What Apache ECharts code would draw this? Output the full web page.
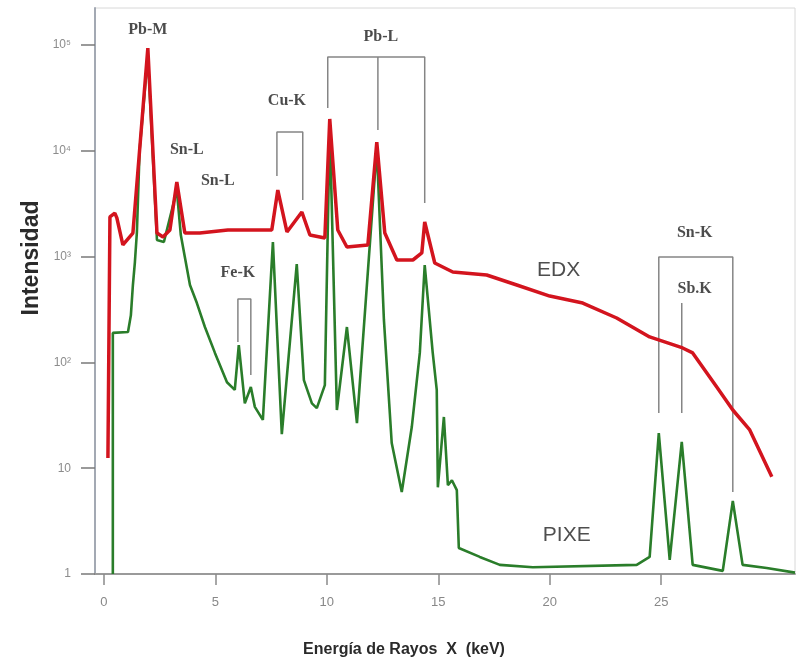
<!DOCTYPE html>
<html>
<head>
<meta charset="utf-8">
<script src="https://cdn.jsdelivr.net/npm/echarts@6/dist/echarts.min.js"></script>
<style>
html,body{margin:0;padding:0;background:#fff;}
#chart{width:808px;height:665px;}
</style>
</head>
<body>
<div id="chart"></div>
<script>
// ---- data ----
var xTickValues = [0, 5, 10, 15, 20, 25];
var yTickValues = [1, 10, 100, 1000, 10000, 100000];
var yTickLabels = ['1', '10', '10²', '10³', '10⁴', '10⁵'];

var edxEnergy = [0.18,0.27,0.49,0.58,0.85,1.30,1.97,2.38,2.65,2.96,3.27,3.63,4.30,5.56,7.53,7.80,8.21,8.88,9.24,9.91,10.13,10.49,10.90,11.84,12.24,12.60,13.14,13.86,14.26,14.39,14.84,15.65,17.17,18.52,20.0,21.48,23.0,24.48,25.96,26.41,27.49,28.21,28.97,29.96];
var edxIntensity = [12.5,2370,2580,2320,1290,1670,93700,1670,1530,1785,5070,1670,1670,1785,1785,4260,1710,2640,1600,1500,20000,1785,1233,1288,12100,1670,929,929,1082,2124,870,715,670,539,424,364,263,174,137,123,58.5,35.5,23,8.3];

var pixeEnergy = [0.40,0.40,1.08,1.21,1.30,1.39,1.48,1.60,1.97,2.38,2.69,3.27,3.45,3.63,3.86,4.17,4.53,4.98,5.52,5.87,6.05,6.32,6.59,6.77,7.13,7.58,7.98,8.65,8.97,9.33,9.55,9.91,10.13,10.45,10.90,11.35,12.24,12.56,12.91,13.36,13.81,14.17,14.39,14.75,14.93,14.98,15.25,15.43,15.61,15.83,15.92,16.86,17.76,19.24,23.9,24.48,24.89,25.38,25.92,26.41,27.76,28.21,28.65,29.73,31.0];
var pixeIntensity = [1,190,194,280,539,889,1710,10100,80000,1435,1374,4260,1600,991,539,364,216,123,65,55,146,41,58.5,38,28.6,1374,21,851,68,41,37,61,17500,35.5,216,26.7,10620,252,17.3,5.96,24.5,123,833,123,55,6.6,30.5,6.9,7.7,6.2,1.76,1.45,1.22,1.16,1.22,1.45,21.5,1.36,17.7,1.22,1.07,4.9,1.22,1.14,1.03];

// bracket lines marking the element peaks [keV, intensity]
var bracketFeK = [[6.01,156],[6.01,397],[6.59,397],[6.59,76]];
var bracketCuK = [[7.76,5780],[7.76,15060],[8.92,15060],[8.92,3430]];
var bracketPbL = [[10.04,25400],[10.04,77070],[14.39,77070],[14.39,3210]];
var bracketPbLmid = [[12.29,77070],[12.29,15730]];
var bracketSnK = [[24.89,33.2],[24.89,991],[28.21,991],[28.21,5.96]];
var bracketSbK = [[25.92,364],[25.92,33.2]];

// peak labels
var peakNames = ['Pb-M','Sn-L','Sn-L','Cu-K','Pb-L','Fe-K','Sn-K','Sb.K'];
var peakEnergy = [1.97,3.72,5.11,8.21,12.42,6.01,26.5,26.5];
var peakLabelIntensity = [138700,10180,5185,29560,119100,700,1670,494];

var seriesNames = ['EDX','PIXE'];
var seriesLabelEnergy = [20.4,20.76];
var seriesLabelIntensity = [747,2.34];

function zip(a, b){ return a.map(function(v,i){ return [v, b[i]]; }); }

var chart = echarts.init(document.getElementById('chart'), null, {renderer:'canvas'});

var bracketStyle = {color:'#858585', width:1.5};
function bracketSeries(d){
  return {type:'line', data:d, symbol:'none', silent:true, z:1,
          lineStyle:bracketStyle, animation:false};
}

var annData = peakNames.map(function(n,i){
  return {name:n, value:[peakEnergy[i], peakLabelIntensity[i]]};
});
var seriesLabelData = seriesNames.map(function(n,i){
  return {name:n, value:[seriesLabelEnergy[i], seriesLabelIntensity[i]]};
});

var option = {
  animation:false,
  backgroundColor:'#fff',
  grid:{left:95, right:13, top:8, bottom:91, show:true, borderColor:'#d8d8d8', borderWidth:1},
  xAxis:{
    type:'value', min:-0.4, max:31.0,
    axisLine:{show:true, onZero:false, lineStyle:{color:'#9a9a9a', width:2}},
    axisTick:{show:true, length:11, customValues:xTickValues, lineStyle:{color:'#8a8a8a', width:1.5}},
    axisLabel:{show:true, customValues:xTickValues, margin:22, color:'#888', fontSize:13, fontFamily:'Liberation Sans'},
    splitLine:{show:false}
  },
  yAxis:{
    type:'log', logBase:10, min:1, max:223872,
    axisLine:{show:true, onZero:false, lineStyle:{color:'#a3a9b3', width:2}},
    axisTick:{show:true, length:14, customValues:yTickValues, lineStyle:{color:'#7a7a7a', width:1.5}},
    axisLabel:{show:true, customValues:yTickValues, margin:24, color:'#8c8c8c', fontSize:12, fontFamily:'Liberation Sans',
      formatter:function(v){
        var k = yTickValues.indexOf(v);
        if (k < 0) { k = Math.round(Math.log(v)/Math.LN10); }
        return yTickLabels[k] !== undefined ? yTickLabels[k] : '';
      }},
    splitLine:{show:false}
  },
  series:[
    {name:'PIXE', type:'line', data:zip(pixeEnergy,pixeIntensity), symbol:'none', z:2,
     lineStyle:{color:'#2a7d2a', width:2.6}},
    {name:'EDX', type:'line', data:zip(edxEnergy,edxIntensity), symbol:'none', z:3,
     lineStyle:{color:'#d3141e', width:3.5}},
    bracketSeries(bracketFeK),
    bracketSeries(bracketCuK),
    bracketSeries(bracketPbL),
    bracketSeries(bracketPbLmid),
    bracketSeries(bracketSnK),
    bracketSeries(bracketSbK),
    {type:'scatter', data:annData, symbolSize:0, silent:true, z:5,
     label:{show:true, position:'inside', formatter:'{b}', color:'#1e1e1e', fontSize:16, fontWeight:'bold', fontFamily:'Liberation Serif'}},
    {type:'scatter', data:seriesLabelData, symbolSize:0, silent:true, z:5,
     label:{show:true, position:'inside', formatter:'{b}', color:'#222', fontSize:21, fontFamily:'Liberation Sans'}}
  ],
  graphic:[
    {type:'text', x:32, y:258, rotation:Math.PI/2,
     style:{text:'Intensidad', fill:'#2a2a2a', font:'bold 23px "Liberation Sans"', align:'center', verticalAlign:'middle'}},
    {type:'text', x:404, y:650,
     style:{text:'Energía de Rayos  X  (keV)', fill:'#2a2a2a', font:'bold 16px "Liberation Sans"', align:'center', verticalAlign:'middle'}}
  ]
};
chart.setOption(option);
</script>
</body>
</html>
